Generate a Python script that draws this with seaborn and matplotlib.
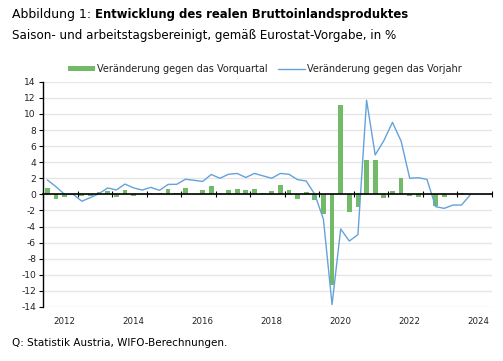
import matplotlib
matplotlib.use('Agg')
import matplotlib.pyplot as plt
from matplotlib.patches import Patch
from matplotlib.lines import Line2D
import seaborn as sns
import pandas as pd
import numpy as np

sns.set_theme(style='white')
plt.rcParams['font.family'] = ['DejaVu Sans']
plt.rcParams['axes.unicode_minus'] = False

# Quarterly data from 2012 Q1 on (index 0 = 2012 Q1)
qoq = [0.8, -0.55, -0.3, -0.12, -0.2, -0.17, 0.3, 0.42, -0.3, 0.6,
       -0.15, 0.05, 0.12, 0.12, 0.67, 0.15, 0.8, 0.03, 0.55, 1.05,
       0.15, 0.55, 0.67, 0.55, 0.67, 0.15, 0.4, 1.15, 0.55, -0.57,
       0.3, -0.67, -2.4, -11.3, 11.1, -2.2, -1.55, 4.27, 4.27, -0.4,
       0.4, 2.0, -0.15, -0.28, 0.02, -1.45, -0.28, 0.02, 0.15, 0.05]
yoy = [1.8, 0.95, 0.0, 0.0, -0.85, -0.4, 0.1, 0.8, 0.55, 1.28,
       0.8, 0.54, 0.87, 0.5, 1.24, 1.25, 1.88, 1.75, 1.6, 2.47,
       2.0, 2.5, 2.6, 2.1, 2.6, 2.3, 2.0, 2.6, 2.5, 1.83,
       1.66, 0.0, -3.1, -13.7, -4.3, -5.8, -5.0, 11.7, 4.9, 6.67,
       8.95, 6.63, 2.0, 2.07, 1.86, -1.53, -1.74, -1.33, -1.33, -0.08]
years = list(range(2012, 2025))
year_labels = ['2012', '2014', '2016', '2018', '2020', '2022', '2024']

df = pd.DataFrame({'q': np.arange(len(qoq)), 'qoq': qoq, 'yoy': yoy})
n_cat = len(years) * 4

green = '#72b968'
blue = '#65a2da'

fig = plt.figure(figsize=(5.03, 3.61), dpi=100)
ax = fig.add_axes([0.0855, 0.1496, 0.892, 0.624])

for v in range(-14, 15, 2):
    ax.axhline(v, color='#e6e6e6', lw=1, zorder=0)

# bars on a categorical axis that covers the whole period (52 quarters)
sns.barplot(data=df, x='q', y='qoq', order=list(range(n_cat)), width=0.55,
            color=green, saturation=1, edgecolor='none', linewidth=0,
            ax=ax, zorder=2)
sns.lineplot(data=df, x='q', y='yoy', color=blue, lw=1, ax=ax, zorder=3)

ax.set_xlim(-0.5, n_cat - 0.5)
ax.set_ylim(-14, 14)
ax.set_yticks(range(-14, 15, 2))
ax.set_xlabel('')
ax.set_ylabel('')
ax.tick_params(axis='y', labelsize=6.6, length=3, width=0.8, color='black',
               direction='out', pad=2, labelcolor='#222222', left=True)

for s in ['top', 'right']:
    ax.spines[s].set_visible(False)
ax.spines['left'].set_color('black')
ax.spines['left'].set_linewidth(1)
ax.spines['bottom'].set_position(('data', 0))
ax.spines['bottom'].set_color('black')
ax.spines['bottom'].set_linewidth(1.2)
ax.spines['bottom'].set_zorder(4)
ax.set_xticks(np.arange(-0.5, n_cat, 4))
ax.set_xticklabels([])
ax.tick_params(axis='x', direction='inout', length=5, width=0.8,
               color='black', bottom=True)

# year labels along the bottom of the plot area
sec = ax.secondary_xaxis('bottom')
sec.set_xticks(np.arange(2, n_cat, 8), year_labels)
sec.tick_params(length=0, labelsize=6.2, pad=7, labelcolor='#222222')
sec.spines['bottom'].set_visible(False)

handles = [Patch(facecolor=green, edgecolor='none'),
           Line2D([], [], color=blue, lw=1)]
fig.legend(handles, ['Veränderung gegen das Vorquartal',
                     'Veränderung gegen das Vorjahr'],
           loc='center', bbox_to_anchor=(0.527, 1 - 69 / 361), ncol=2,
           frameon=False, fontsize=7.0, handlelength=2.7, handleheight=0.5,
           columnspacing=1.1, handletextpad=0.25, labelcolor='#222222')

t1 = fig.text(12 / 503, 1 - 14.5 / 361, 'Abbildung 1: ', fontsize=9.0,
              va='center', ha='left', color='black')
fig.canvas.draw()
x_bold = t1.get_window_extent().x1 / fig.bbox.width
fig.text(x_bold, 1 - 14.5 / 361,
         'Entwicklung des realen Bruttoinlandsproduktes', fontsize=8.4,
         fontweight='bold', va='center', ha='left', color='black')
fig.text(12 / 503, 1 - 35 / 361,
         'Saison- und arbeitstagsbereinigt, gemäß Eurostat-Vorgabe, in %',
         fontsize=8.6, va='center', ha='left', color='black')
fig.text(12 / 503, 1 - 343 / 361, 'Q: Statistik Austria, WIFO-Berechnungen.',
         fontsize=7.5, va='center', ha='left', color='black')

fig.savefig('out.png', dpi=100)
